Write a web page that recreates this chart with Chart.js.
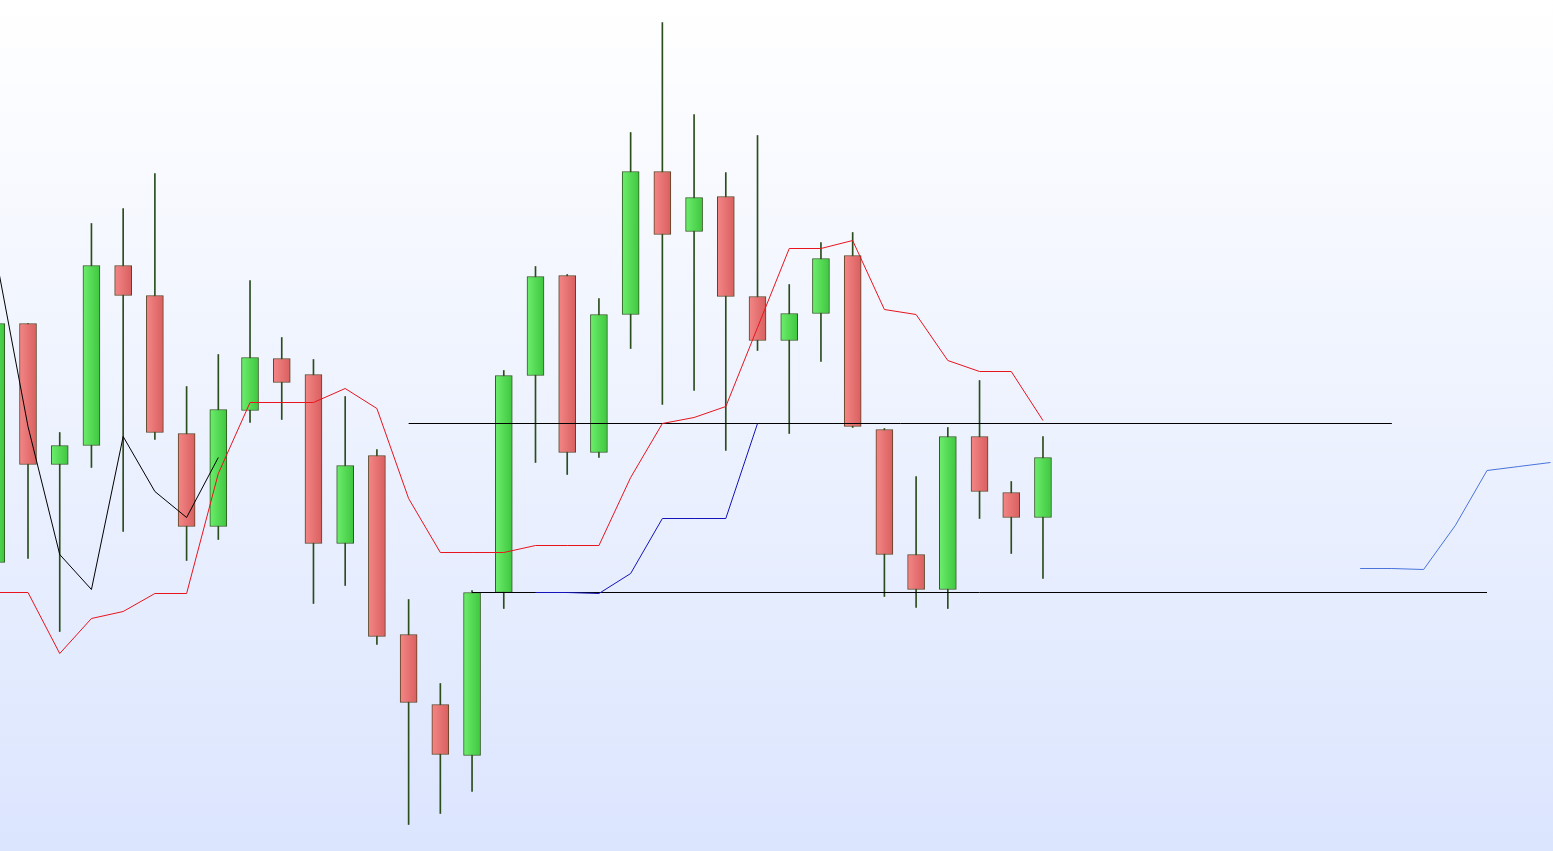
<!DOCTYPE html>
<html>
<head>
<meta charset="utf-8">
<script src="https://cdn.jsdelivr.net/npm/chart.js@4.4.1/dist/chart.umd.min.js"></script>
<style>
html, body { margin: 0; padding: 0; overflow: hidden; }
#wrap { width: 1553px; height: 851px; }
</style>
</head>
<body>
<div id="wrap"><canvas id="candles"></canvas></div>
<script>
// candle values, one per bar (index 0..33)
const opens  = [1.0938, 1.1177, 1.1036, 1.1055, 1.1235, 1.1205, 1.1067, 1.0974, 1.1090, 1.1142,
                1.1126, 1.0957, 1.1045, 1.0866, 1.0796, 1.0745, 1.0908, 1.1125, 1.1225, 1.1048,
                1.1186, 1.1329, 1.1269, 1.1304, 1.1204, 1.1160, 1.1187, 1.1245, 1.1071, 1.0946,
                1.0911, 1.1064, 1.1008, 1.0983];
const highs  = [1.1185, 1.1177, 1.1068, 1.1277, 1.1292, 1.1327, 1.1114, 1.1146, 1.1220, 1.1163,
                1.1141, 1.1104, 1.1051, 1.0901, 1.0817, 1.0910, 1.1130, 1.1234, 1.1226, 1.1202,
                1.1368, 1.1478, 1.1386, 1.1328, 1.1365, 1.1216, 1.1258, 1.1268, 1.1072, 1.1024,
                1.1073, 1.1120, 1.1019, 1.1064];
const lows   = [1.0930, 1.0942, 1.0869, 1.1033, 1.0969, 1.1061, 1.0940, 1.0961, 1.1078, 1.1081,
                1.0897, 1.0915, 1.0856, 1.0676, 1.0687, 1.0709, 1.0892, 1.1038, 1.1026, 1.1043,
                1.1152, 1.1096, 1.1110, 1.1050, 1.1150, 1.1067, 1.1139, 1.1073, 1.0904, 1.0893,
                1.0892, 1.0982, 1.0947, 1.0922];
const closes = [1.1177, 1.1036, 1.1055, 1.1235, 1.1205, 1.1068, 1.0974, 1.1091, 1.1143, 1.1118,
                1.0957, 1.1035, 1.0864, 1.0798, 1.0746, 1.0908, 1.1125, 1.1224, 1.1048, 1.1186,
                1.1329, 1.1266, 1.1303, 1.1204, 1.1160, 1.1187, 1.1242, 1.1074, 1.0946, 1.0911,
                1.1064, 1.1009, 1.0983, 1.1043];

// red line, index 0..33
const redLine = [1.0908, 1.0908, 1.0847, 1.0882, 1.0889, 1.0907, 1.0907, 1.1027, 1.1098, 1.1098,
                 1.1098, 1.1112, 1.1092, 1.1002, 1.0948, 1.0948, 1.0948, 1.0955, 1.0955, 1.0955,
                 1.1023, 1.1077, 1.1083, 1.1094, 1.1173, 1.1252, 1.1252, 1.1260, 1.1191, 1.1186,
                 1.1140, 1.1129, 1.1129, 1.1080];
// black lagging line = closes drawn 26 bars back
const lagShift = 26;
// dark blue line, index 17..24
const blueStart = 17;
const blueLine = [1.0908, 1.0908, 1.0907, 1.0927, 1.0982, 1.0982, 1.0982, 1.1077];
// light blue line ahead of price, index 43..49
const aheadStart = 43;
const aheadLine = [1.0932, 1.0932, 1.0931, 1.0975, 1.1030, 1.1034, 1.1038];
// horizontal levels: [value, from index, to index]
const upperLevel = [1.1077, 13, 44];
const lowerLevel = [1.0908, 15, 47];

const idx = opens.map((_, i) => i);
const pts = (arr, start) => arr.map((v, k) => ({ x: start + k, y: v }));
const level = l => [{ x: l[1], y: l[0] }, { x: l[2], y: l[0] }];

function bodyFill(c) {
  if (c.type !== 'data' || !c.chart.chartArea) return '#888888';
  const i = c.dataIndex;
  const px = c.chart.scales.x.getPixelForValue(i);
  const g = c.chart.ctx.createLinearGradient(px - 8.5, 0, px + 8.5, 0);
  if (closes[i] >= opens[i]) {
    g.addColorStop(0, '#6cee6c');
    g.addColorStop(1, '#3fc63f');
  } else {
    g.addColorStop(0, '#f48686');
    g.addColorStop(1, '#d95f5f');
  }
  return g;
}

const bgPlugin = {
  id: 'bg',
  beforeDraw(chart) {
    const { ctx, width, height } = chart;
    const g = ctx.createLinearGradient(0, 0, 0, height);
    g.addColorStop(0, '#ffffff');
    g.addColorStop(1, '#dbe5fe');
    ctx.save();
    ctx.fillStyle = g;
    ctx.fillRect(0, 0, width, height);
    ctx.restore();
  }
};

const lineDs = (data, color, order) => ({
  type: 'line',
  data: data,
  borderColor: color,
  borderWidth: 1,
  pointRadius: 0,
  tension: 0,
  fill: false,
  order: order
});

new Chart(document.getElementById('candles'), {
  type: 'bar',
  data: {
    datasets: [
      {
        label: 'wicks',
        data: idx.map(i => ({ x: i, y: [lows[i], highs[i]] })),
        backgroundColor: '#2b4d1c',
        barThickness: 1,
        grouped: false,
        order: 5
      },
      {
        label: 'bodies',
        data: idx.map(i => ({ x: i, y: [opens[i], closes[i]] })),
        backgroundColor: bodyFill,
        borderColor: c => (c.type === 'data' && closes[c.dataIndex] < opens[c.dataIndex]) ? '#5a4324' : '#2f5a1f',
        borderWidth: 1,
        borderSkipped: false,
        barThickness: 17,
        grouped: false,
        order: 4
      },
      lineDs(level(upperLevel), '#000000', 3),
      lineDs(level(lowerLevel), '#000000', 3),
      lineDs(pts(blueLine, blueStart), '#1414b8', 2),
      lineDs(pts(aheadLine, aheadStart), '#4a74dc', 2),
      lineDs(pts(redLine, 0), '#e8141e', 1),
      lineDs(pts(closes.slice(lagShift), 0), '#000000', 1)
    ]
  },
  options: {
    responsive: true,
    maintainAspectRatio: false,
    animation: false,
    layout: { padding: 0 },
    plugins: { legend: { display: false }, tooltip: { enabled: false } },
    scales: {
      x: { type: 'linear', min: 0.117, max: 49.08, offset: false, display: false },
      y: { min: 1.06495, max: 1.15005, display: false }
    }
  },
  plugins: [bgPlugin]
});
</script>
</body>
</html>
